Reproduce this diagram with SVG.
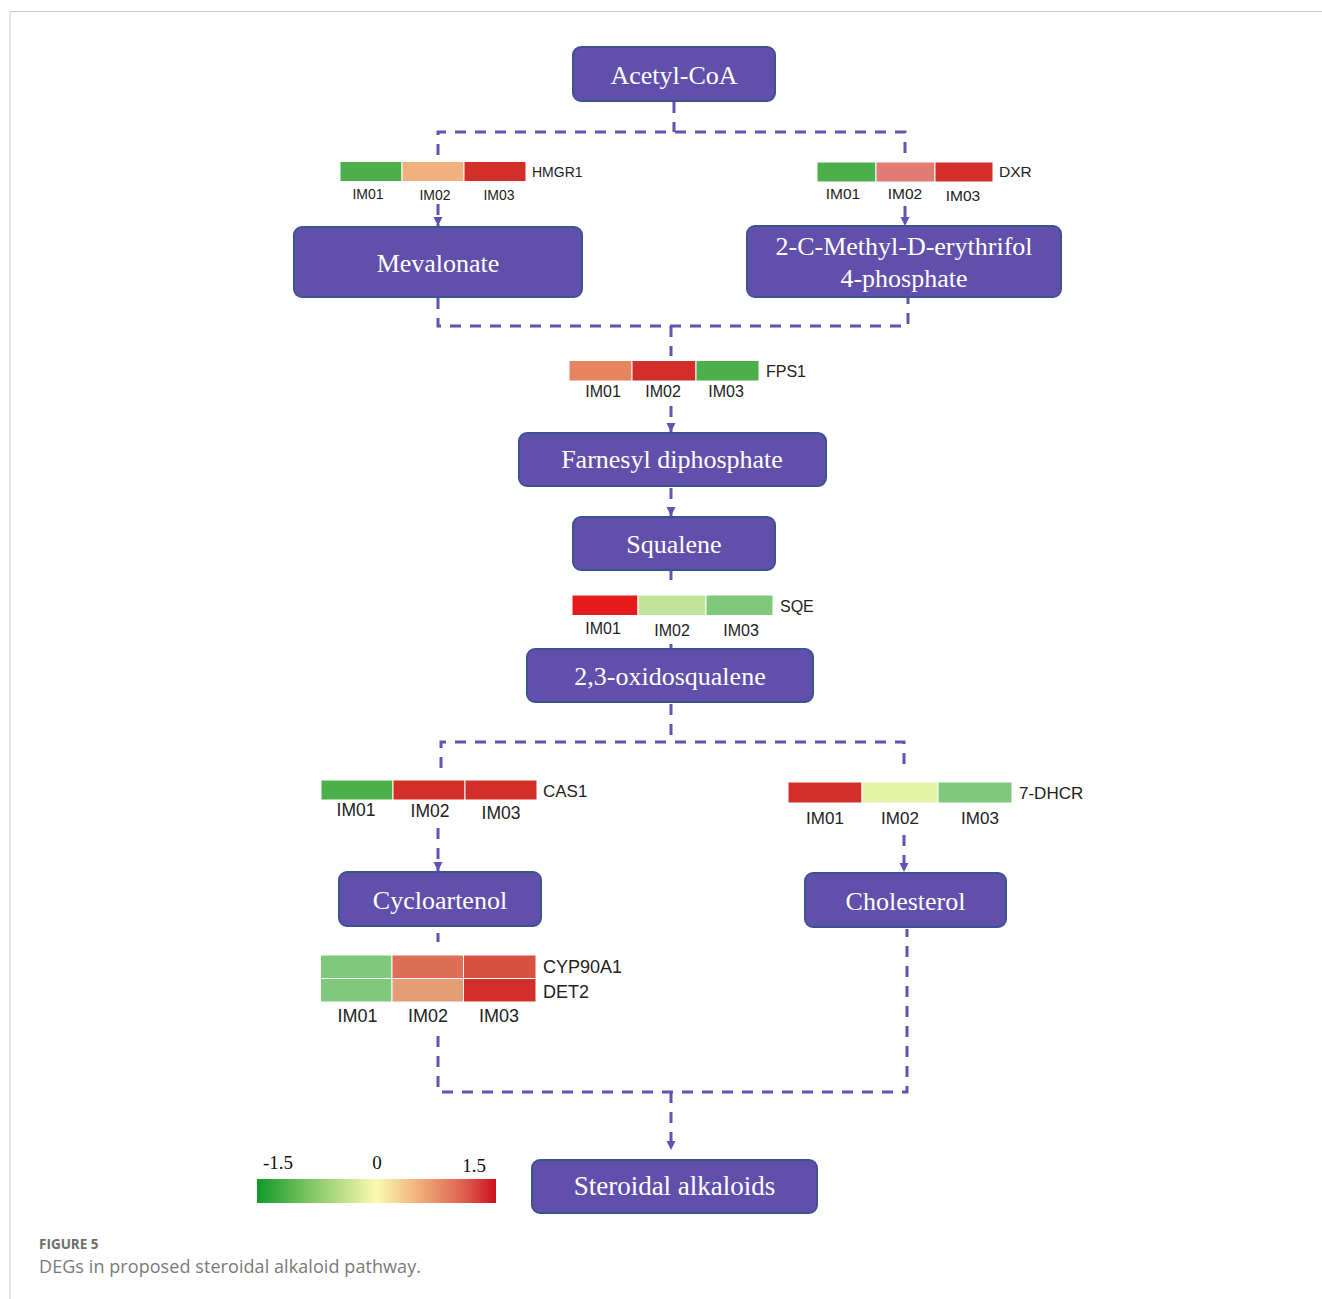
<svg xmlns="http://www.w3.org/2000/svg" width="1322" height="1299" viewBox="0 0 1322 1299">
  <defs>
    <style>
      .node rect { fill: #614fac; stroke: #3d5290; stroke-width: 2; }
      .node text { font-family: "Liberation Serif", "Times New Roman", serif; font-size: 26px; fill: #ffffff; text-anchor: middle; }
      .conn { fill: none; stroke: #6551b2; stroke-width: 3; stroke-dasharray: 11 9; }
      .hm rect { stroke: #ffffff; stroke-width: 1; }
      .im { font-family: "Liberation Sans", Arial, sans-serif; fill: #222222; text-anchor: middle; }
      .gene { font-family: "Liberation Sans", Arial, sans-serif; fill: #222222; }
      .leg { font-family: "Liberation Serif", "Times New Roman", serif; font-size: 19px; fill: #111111; text-anchor: middle; }
    </style>
    <marker id="arrow" viewBox="0 0 10 10" refX="10" refY="5" markerWidth="9" markerHeight="10" markerUnits="userSpaceOnUse" orient="auto">
      <path d="M0,0 L10,5 L0,10 z" fill="#6551b2"/>
    </marker>
    <linearGradient id="scale" x1="0" y1="0" x2="1" y2="0">
      <stop offset="0" stop-color="#11992a"/>
      <stop offset="0.25" stop-color="#8ccb6b"/>
      <stop offset="0.5" stop-color="#fbf9b0"/>
      <stop offset="0.7" stop-color="#eea677"/>
      <stop offset="0.87" stop-color="#dc5e4e"/>
      <stop offset="1" stop-color="#ce0f1e"/>
    </linearGradient>
  </defs>

  <rect x="0" y="0" width="1322" height="1299" fill="#ffffff"/>
  <path d="M10,1299 V11.5 H1322" fill="none" stroke="#c8c8c8" stroke-width="1"/>

  <g id="connectors">
    <path class="conn" d="M674,102 V132"/>
    <path class="conn" d="M438,155 V132 H905 V158"/>
    <path class="conn" d="M438,204 V226" marker-end="url(#arrow)"/>
    <path class="conn" d="M905,206 V226" marker-end="url(#arrow)"/>
    <path class="conn" d="M438,298 V326 H908 V298"/>
    <path class="conn" d="M671,326 V356"/>
    <path class="conn" d="M671,406 V432" marker-end="url(#arrow)"/>
    <path class="conn" d="M671,488 V516" marker-end="url(#arrow)"/>
    <path class="conn" d="M671,571 V580"/>
    <path class="conn" d="M671,644 V648"/>
    <path class="conn" d="M671,704 V742"/>
    <path class="conn" d="M441,768 V742 H904 V766"/>
    <path class="conn" d="M438,828 V871" marker-end="url(#arrow)"/>
    <path class="conn" d="M904,835 V872" marker-end="url(#arrow)"/>
    <path class="conn" d="M438,933 V942"/>
    <path class="conn" d="M438,1036 V1092 H907 V929"/>
    <path class="conn" d="M671,1092 V1150" marker-end="url(#arrow)"/>
  </g>

  <g id="node-acetyl-coa" class="node">
    <rect x="573" y="47" width="202" height="54" rx="8"/>
    <text x="674" y="83.5">Acetyl-CoA</text>
  </g>
  <g id="node-mevalonate" class="node">
    <rect x="294" y="227" width="288" height="70" rx="8"/>
    <text x="438" y="271.5">Mevalonate</text>
  </g>
  <g id="node-mep" class="node">
    <rect x="747" y="226" width="314" height="71" rx="8"/>
    <text x="904" y="255">2-C-Methyl-D-erythrifol</text>
    <text x="904" y="287">4-phosphate</text>
  </g>
  <g id="node-farnesyl" class="node">
    <rect x="519" y="433" width="307" height="53" rx="8"/>
    <text x="672" y="468">Farnesyl diphosphate</text>
  </g>
  <g id="node-squalene" class="node">
    <rect x="573" y="517" width="202" height="53" rx="8"/>
    <text x="674" y="552.5">Squalene</text>
  </g>
  <g id="node-oxidosqualene" class="node">
    <rect x="527" y="649" width="286" height="53" rx="8"/>
    <text x="670" y="685">2,3-oxidosqualene</text>
  </g>
  <g id="node-cycloartenol" class="node">
    <rect x="339" y="872" width="202" height="54" rx="8"/>
    <text x="440" y="908.5">Cycloartenol</text>
  </g>
  <g id="node-cholesterol" class="node">
    <rect x="805" y="873" width="201" height="54" rx="8"/>
    <text x="905.5" y="910">Cholesterol</text>
  </g>
  <g id="node-steroidal-alkaloids" class="node">
    <rect x="532" y="1160" width="285" height="53" rx="8"/>
    <text x="674.5" y="1195" style="font-size:27px">Steroidal alkaloids</text>
  </g>

  <g id="heatmap-hmgr1" class="hm">
    <rect x="340" y="161.5" width="62" height="20" fill="#4caf4a"/>
    <rect x="402" y="161.5" width="62" height="20" fill="#f0b07f"/>
    <rect x="464" y="161.5" width="62" height="20" fill="#d32f2a"/>
    <text class="gene" x="532" y="177" style="font-size:14px">HMGR1</text>
    <text class="im" x="368" y="199" style="font-size:14px">IM01</text>
    <text class="im" x="435" y="200" style="font-size:14px">IM02</text>
    <text class="im" x="499" y="200" style="font-size:14px">IM03</text>
  </g>
  <g id="heatmap-dxr" class="hm">
    <rect x="817" y="162" width="59" height="20" fill="#4caf4a"/>
    <rect x="876" y="162" width="59" height="20" fill="#e27b74"/>
    <rect x="935" y="162" width="58" height="20" fill="#d32f2a"/>
    <text class="gene" x="999" y="177" style="font-size:15.5px">DXR</text>
    <text class="im" x="843" y="199" style="font-size:15.5px">IM01</text>
    <text class="im" x="905" y="199" style="font-size:15.5px">IM02</text>
    <text class="im" x="963" y="201" style="font-size:15.5px">IM03</text>
  </g>
  <g id="heatmap-fps1" class="hm">
    <rect x="569" y="360.5" width="63" height="20.5" fill="#e5845f"/>
    <rect x="632" y="360.5" width="64" height="20.5" fill="#d32f2a"/>
    <rect x="696" y="360.5" width="63" height="20.5" fill="#4caf4a"/>
    <text class="gene" x="766" y="377" style="font-size:16px">FPS1</text>
    <text class="im" x="603" y="397" style="font-size:16px">IM01</text>
    <text class="im" x="663" y="397" style="font-size:16px">IM02</text>
    <text class="im" x="726" y="397" style="font-size:16px">IM03</text>
  </g>
  <g id="heatmap-sqe" class="hm">
    <rect x="572" y="595" width="66" height="20.5" fill="#e41a1c"/>
    <rect x="638" y="595" width="68" height="20.5" fill="#c1e49b"/>
    <rect x="706" y="595" width="67" height="20.5" fill="#80c97c"/>
    <text class="gene" x="780" y="612" style="font-size:16px">SQE</text>
    <text class="im" x="603" y="634" style="font-size:16px">IM01</text>
    <text class="im" x="672" y="636" style="font-size:16px">IM02</text>
    <text class="im" x="741" y="636" style="font-size:16px">IM03</text>
  </g>
  <g id="heatmap-cas1" class="hm">
    <rect x="321" y="780" width="72" height="20" fill="#4caf4a"/>
    <rect x="393" y="780" width="72" height="20" fill="#d32f2a"/>
    <rect x="465" y="780" width="72" height="20" fill="#d32f2a"/>
    <text class="gene" x="543" y="797" style="font-size:17px">CAS1</text>
    <text class="im" x="356" y="816" style="font-size:17.5px">IM01</text>
    <text class="im" x="430" y="817" style="font-size:17.5px">IM02</text>
    <text class="im" x="501" y="819" style="font-size:17.5px">IM03</text>
  </g>
  <g id="heatmap-7dhcr" class="hm">
    <rect x="788" y="782" width="74" height="21" fill="#d32f2a"/>
    <rect x="862" y="782" width="76" height="21" fill="#e2f3a8"/>
    <rect x="938" y="782" width="74" height="21" fill="#80c97c"/>
    <text class="gene" x="1019" y="799" style="font-size:17px">7-DHCR</text>
    <text class="im" x="825" y="824" style="font-size:17px">IM01</text>
    <text class="im" x="900" y="824" style="font-size:17px">IM02</text>
    <text class="im" x="980" y="824" style="font-size:17px">IM03</text>
  </g>
  <g id="heatmap-cyp90a1-det2" class="hm">
    <rect x="320.5" y="955" width="71.5" height="23.5" fill="#80c97c"/>
    <rect x="392" y="955" width="71.5" height="23.5" fill="#de6f57"/>
    <rect x="463.5" y="955" width="72.5" height="23.5" fill="#d8503f"/>
    <rect x="320.5" y="978.5" width="71.5" height="23.5" fill="#80c97c"/>
    <rect x="392" y="978.5" width="71.5" height="23.5" fill="#e49c74"/>
    <rect x="463.5" y="978.5" width="72.5" height="23.5" fill="#d32f2a"/>
    <text class="gene" x="543" y="972.5" style="font-size:18px">CYP90A1</text>
    <text class="gene" x="543" y="998" style="font-size:18px">DET2</text>
    <text class="im" x="357.5" y="1022" style="font-size:18px">IM01</text>
    <text class="im" x="428" y="1022" style="font-size:18px">IM02</text>
    <text class="im" x="499" y="1022" style="font-size:18px">IM03</text>
  </g>

  <g id="legend">
    <rect x="257" y="1179" width="239" height="24" fill="url(#scale)"/>
    <text class="leg" x="278" y="1169">-1.5</text>
    <text class="leg" x="377" y="1169">0</text>
    <text class="leg" x="474" y="1172">1.5</text>
  </g>

  <g id="caption">
    <text x="39" y="1249" style="font-family:'Open Sans','Liberation Sans',sans-serif;font-size:13.5px;font-weight:bold;fill:#6e6e6e">FIGURE 5</text>
    <text x="39" y="1273" textLength="382" style="font-family:'Open Sans','Liberation Sans',sans-serif;font-size:18px;fill:#7a7a7a">DEGs in proposed steroidal alkaloid pathway.</text>
  </g>
</svg>
